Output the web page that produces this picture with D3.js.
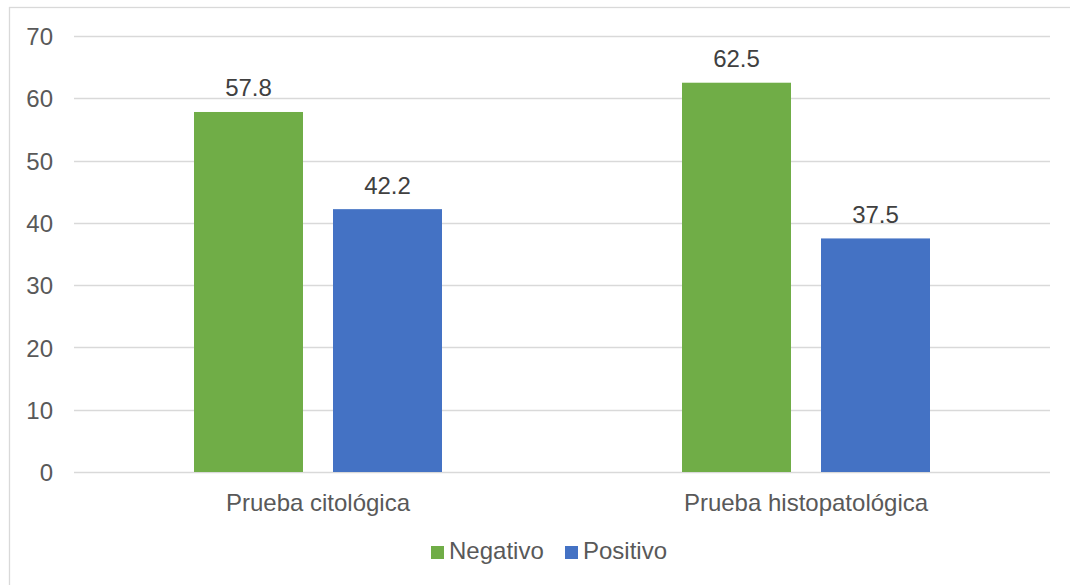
<!DOCTYPE html>
<html>
<head>
<meta charset="utf-8">
<script src="https://cdn.jsdelivr.net/npm/d3@7"></script>
<style>
  html, body { margin: 0; padding: 0; background: #fff; }
  svg { display: block; font-family: "Liberation Sans", Arial, sans-serif; }
</style>
</head>
<body>
<svg id="chart" width="1070" height="585"></svg>
<script>
// Results of each test, in percent
const categories = ["Prueba citológica", "Prueba histopatológica"];
const seriesNames = ["Negativo", "Positivo"];
const negativo = [57.8, 62.5];
const positivo = [42.2, 37.5];
const yTicks = [0, 10, 20, 30, 40, 50, 60, 70];
const colors = ["#70AD47", "#4472C4"];

const svg = d3.select("#chart");
const W = 1070, H = 585;
const plotLeft = 74, plotRight = 1050;
const FONT = "'Liberation Sans', Arial, sans-serif";

// chart area frame
svg.append("rect")
  .attr("x", 9.5).attr("y", 7.5)
  .attr("width", W + 10).attr("height", H + 10)
  .attr("fill", "#fff").attr("stroke", "#d9d9d9").attr("stroke-width", 1.3);

const y = d3.scaleLinear().domain([0, 70]).range([472, 36]);
const x0 = d3.scaleBand().domain(categories).range([plotLeft, plotRight]);
const groupWidth = 248;
const x1 = d3.scaleBand().domain(seriesNames).range([0, groupWidth]).paddingInner(30 / 139);

// gridlines
svg.append("g").selectAll("line").data(yTicks).join("line")
  .attr("x1", plotLeft).attr("x2", plotRight)
  .attr("y1", d => Math.round(y(d)) + 0.5).attr("y2", d => Math.round(y(d)) + 0.5)
  .attr("stroke", "#d9d9d9").attr("stroke-width", 1.3);

// y axis labels
const yAxis = d3.axisLeft(y).tickValues(yTicks).tickSize(0).tickPadding(0);
const gy = svg.append("g").attr("transform", "translate(53,0)").call(yAxis);
gy.select(".domain").remove();
gy.selectAll("text").attr("fill", "#595959").style("font-size", "24px")
  .style("font-family", FONT).attr("dy", "0.36em");

// bars
const rows = categories.map((c, i) => ({ cat: c, values: [negativo[i], positivo[i]] }));
const groups = svg.append("g").selectAll("g").data(rows).join("g")
  .attr("transform", d => `translate(${x0(d.cat) + (x0.bandwidth() - groupWidth) / 2},0)`);

const cells = d => d.values.map((v, j) => ({ name: seriesNames[j], v, j }));

groups.selectAll("rect").data(cells).join("rect")
  .attr("x", d => x1(d.name))
  .attr("width", x1.bandwidth())
  .attr("y", d => y(d.v))
  .attr("height", d => y(0) - y(d.v))
  .attr("fill", d => colors[d.j]);

// value labels
groups.selectAll("text").data(cells).join("text")
  .attr("x", d => x1(d.name) + x1.bandwidth() / 2)
  .attr("y", d => y(d.v) - 15.5)
  .attr("text-anchor", "middle")
  .attr("fill", "#404040")
  .style("font-size", "24px")
  .text(d => d.v.toFixed(1));

// category labels
const xAxis = d3.axisBottom(x0).tickSize(0).tickPadding(0);
const gx = svg.append("g").attr("transform", "translate(0,511)").call(xAxis);
gx.select(".domain").remove();
gx.selectAll("text").attr("fill", "#595959").style("font-size", "24px")
  .style("font-family", FONT).attr("dy", "0").attr("y", 0);

// legend
const legendItems = [
  { name: seriesNames[0], color: colors[0], x: 431 },
  { name: seriesNames[1], color: colors[1], x: 565 }
];
const li = svg.append("g").selectAll("g").data(legendItems).join("g")
  .attr("transform", d => `translate(${d.x},0)`);
li.append("rect").attr("x", 0).attr("y", 546).attr("width", 13).attr("height", 13)
  .attr("fill", d => d.color);
li.append("text").attr("x", 18).attr("y", 559).attr("fill", "#595959")
  .style("font-size", "24px").text(d => d.name);
</script>
</body>
</html>
